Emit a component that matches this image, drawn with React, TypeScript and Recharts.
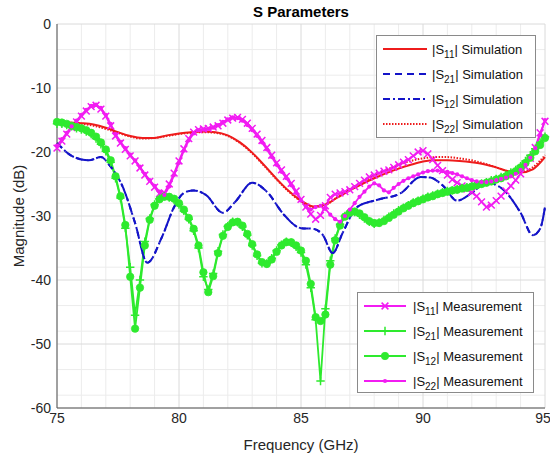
import React from 'react';
import { LineChart, Line, XAxis, YAxis, CartesianGrid } from 'recharts';

// Axis ticks and grid positions
const xTicks = [75, 80, 85, 90, 95];
const yTicks = [0, -10, -20, -30, -40, -50, -60];
const xMinor = [76, 77, 78, 79, 81, 82, 83, 84, 86, 87, 88, 89, 91, 92, 93, 94];
const yMinor = [-2, -4, -6, -8, -12, -14, -16, -18, -22, -24, -26, -28, -32, -34, -36, -38, -42, -44, -46, -48, -52, -54, -56, -58];

// Simulated |S11| and |S22| (GHz, dB)
const simFreqRed = [
  75, 75.5, 76, 76.5, 77, 77.5, 78, 78.5, 79, 79.5,
  80, 80.5, 81, 81.5, 82, 82.5, 83, 83.5, 84, 84.5,
  85, 85.5, 86, 86.5, 87, 87.5, 88, 88.5, 89, 89.5,
  90, 90.5, 91, 91.5, 92, 92.5, 93, 93.5, 94, 94.5, 95,
];
const simS11 = [
  -15.3, -15.4, -15.5, -15.7, -16.2, -16.9, -17.5, -17.8, -17.8, -17.4,
  -17.1, -16.9, -16.8, -16.9, -17.4, -18.5, -20.1, -22.1, -24.2, -26.1,
  -27.6, -28.5, -28.2, -27.1, -26.0, -25.0, -24.1, -23.3, -22.6, -22.0,
  -21.5, -21.3, -21.3, -21.4, -21.6, -21.9, -22.4, -23.0, -23.2, -22.7, -20.8,
];
const simS22 = [
  -15.5, -15.5, -15.6, -15.9, -16.4, -17.0, -17.6, -17.9, -17.8, -17.5,
  -17.2, -17.0, -16.9, -17.0, -17.5, -18.6, -20.2, -22.2, -24.3, -26.2,
  -27.7, -28.6, -28.3, -27.0, -25.8, -24.7, -23.7, -22.8, -22.0, -21.4,
  -21.0, -20.8, -20.8, -21.0, -21.3, -21.8, -22.4, -23.0, -23.1, -22.4, -20.5,
];

// Simulated |S21| and |S12| (GHz, dB)
const simFreqBlue = [
  75, 75.7, 76.3, 76.8, 77.2, 77.7, 78.2, 78.7, 79.3, 79.8,
  80.2, 80.6, 81.1, 81.8, 82.3, 83.0, 83.6, 84.3, 85.0, 85.5,
  85.9, 86.3, 86.7, 87.3, 88.1, 89.1, 89.9, 90.3, 90.8, 91.4,
  92.0, 92.6, 93.2, 94.0, 94.5, 94.8, 95,
];
const simS21 = [
  -18.6, -20.8, -21.3, -20.8, -22.3, -25.5, -31.1, -37.3, -33.3, -28.6,
  -26.4, -26.0, -26.7, -29.5, -27.8, -24.8, -26.2, -29.8, -31.9, -32.0,
  -33.0, -35.8, -32.7, -28.6, -27.5, -26.4, -23.9, -24.0, -25.2, -27.6,
  -26.4, -24.8, -25.6, -29.5, -33.0, -32.0, -28.6,
];
const simS12 = [
  -18.6, -20.8, -21.3, -20.8, -22.3, -25.5, -31.1, -37.3, -33.3, -28.6,
  -26.4, -26.0, -26.7, -29.5, -27.8, -24.8, -26.2, -29.8, -31.9, -32.0,
  -33.0, -35.8, -32.7, -28.6, -27.5, -26.4, -23.9, -24.0, -25.2, -27.6,
  -26.4, -24.8, -25.6, -29.5, -33.0, -32.0, -28.6,
];

// Measured sweep: 75 to 95 GHz in 0.2 GHz steps
const measFreq = Array.from({ length: 101 }, (_, i) => Math.round((75 + 0.2 * i) * 10) / 10);
const measS11 = [
  -19.4, -18.3, -17.2, -16.2, -15.3, -14.4, -13.6, -12.9, -12.7, -13.3,
  -14.4, -15.9, -17.5, -18.6, -19.6, -20.6, -21.4, -22.5, -23.6, -24.6,
  -25.5, -26.5, -26.4, -25.0, -23.3, -21.4, -19.5, -17.9, -16.9, -16.5,
  -16.4, -16.3, -16.1, -15.9, -15.5, -15.0, -14.7, -14.6, -14.9, -15.5,
  -16.3, -17.2, -18.2, -19.3, -20.5, -21.7, -22.8, -23.8, -24.9, -26.1,
  -27.4, -28.6, -29.7, -30.5, -29.9, -28.4, -27.1, -26.6, -26.4, -26.2,
  -25.9, -25.4, -24.9, -24.4, -23.9, -23.6, -23.3, -23.0, -22.8, -22.4,
  -22.0, -21.6, -21.2, -20.6, -20.0, -19.8, -20.3, -21.2, -22.1, -22.9,
  -23.6, -24.3, -24.8, -25.3, -25.8, -26.3, -26.9, -27.8, -28.6, -28.3,
  -27.6, -26.9, -26.1, -25.3, -24.4, -23.4, -22.3, -21.0, -19.3, -17.0, -15.2,
];
const measS21 = [
  -15.6, -15.6, -15.8, -16.0, -16.3, -16.5, -16.8, -17.2, -17.9, -18.8,
  -19.9, -21.6, -24.1, -27.2, -31.9, -38.0, -45.5, -40.0, -34.0, -30.4,
  -28.2, -27.3, -26.9, -27.1, -27.5, -28.2, -29.2, -30.5, -32.3, -35.0,
  -39.5, -41.5, -39.0, -35.5, -32.9, -31.6, -30.9, -31.0, -31.7, -33.0,
  -34.6, -36.2, -37.4, -37.4, -36.6, -35.4, -34.5, -34.0, -34.2, -34.8,
  -35.7, -37.6, -41.2, -46.2, -55.8, -44.5, -37.0, -33.5, -31.3, -30.0,
  -29.4, -29.4, -29.8, -30.4, -30.9, -31.2, -31.0, -30.6, -30.1, -29.6,
  -29.1, -28.7, -28.3, -27.9, -27.6, -27.3, -27.0, -26.8, -26.5, -26.3,
  -26.1, -26.0, -25.8, -25.6, -25.5, -25.3, -25.1, -24.9, -24.7, -24.4,
  -24.2, -23.9, -23.6, -23.2, -22.8, -22.2, -21.4, -20.5, -19.5, -18.5, -17.6,
];
const measS12 = [
  -15.3, -15.4, -15.6, -15.9, -16.1, -16.3, -16.6, -17.0, -17.6, -18.5,
  -19.6, -21.3, -23.8, -26.9, -31.4, -39.5, -47.6, -41.2, -34.6, -30.6,
  -28.4, -27.4, -27.0, -27.0, -27.3, -28.0, -29.0, -30.3, -32.0, -34.6,
  -38.8, -41.9, -39.4, -35.8, -33.1, -31.7, -31.0, -30.9, -31.5, -32.8,
  -34.4, -36.0, -37.2, -37.5, -36.8, -35.6, -34.6, -34.1, -34.1, -34.6,
  -35.4, -37.0, -40.6, -45.8, -46.4, -45.4, -37.6, -33.8, -31.5, -30.1,
  -29.5, -29.3, -29.6, -30.2, -30.8, -31.1, -31.1, -30.8, -30.3, -29.8,
  -29.3, -28.8, -28.4, -28.0, -27.7, -27.4, -27.1, -26.9, -26.6, -26.4,
  -26.2, -26.0, -25.9, -25.7, -25.6, -25.4, -25.2, -25.0, -24.8, -24.6,
  -24.3, -24.1, -23.8, -23.4, -23.0, -22.4, -21.7, -20.9, -19.9, -18.9, -17.8,
];
const measS22 = [
  -19.0, -18.0, -17.0, -16.0, -15.1, -14.2, -13.4, -12.8, -12.6, -13.1,
  -14.2, -15.6, -17.2, -18.4, -19.4, -20.4, -21.3, -22.3, -23.4, -24.4,
  -25.3, -26.2, -26.7, -25.4, -23.6, -21.7, -19.8, -18.2, -17.1, -16.6,
  -16.5, -16.4, -16.2, -15.8, -15.3, -14.9, -14.6, -14.7, -15.1, -15.8,
  -16.6, -17.5, -18.5, -19.6, -20.8, -22.0, -23.1, -24.1, -25.2, -26.4,
  -27.6, -28.5, -29.0, -28.6, -28.4, -28.9, -29.8, -30.5, -30.9, -30.0,
  -29.0, -28.0, -27.0, -26.2, -25.4, -24.9, -25.2, -26.0, -26.3, -25.6,
  -25.0, -24.5, -24.1, -23.8, -23.5, -23.2, -23.0, -22.9, -22.9, -23.0,
  -23.1, -23.3, -23.5, -23.8, -24.1, -24.4, -24.6, -24.7, -24.7, -24.6,
  -24.4, -24.2, -24.0, -23.8, -23.4, -22.8, -22.0, -20.9, -19.4, -17.4, -15.0,
];

const RED = '#ee1c1c';
const BLUE = '#1414c8';
const MAGENTA = '#f21cf2';
const GREEN = '#2eea2e';
const FONT = '"Liberation Sans", Arial, Helvetica, sans-serif';
const TEXT = '#262626';

const zip = (xs: number[], ys: number[]) => xs.map((f, i) => ({ f, v: ys[i] }));

const simS11Data = zip(simFreqRed, simS11);
const simS22Data = zip(simFreqRed, simS22);
const simS21Data = zip(simFreqBlue, simS21);
const simS12Data = zip(simFreqBlue, simS12);
const measS11Data = zip(measFreq, measS11);
const measS21Data = zip(measFreq, measS21);
const measS12Data = zip(measFreq, measS12);
const measS22Data = zip(measFreq, measS22);

type MarkerKind = 'x' | 'plus' | 'circle' | 'dot';

function markerShape(kind: MarkerKind, cx: number, cy: number, color: string, key?: string) {
  if (kind === 'x') {
    const r = 3.4;
    return (
      <path key={key} d={`M${cx - r},${cy - r}L${cx + r},${cy + r}M${cx - r},${cy + r}L${cx + r},${cy - r}`}
        stroke={color} strokeWidth={1.5} fill="none" />
    );
  }
  if (kind === 'plus') {
    const r = 4.2;
    return (
      <path key={key} d={`M${cx - r},${cy}L${cx + r},${cy}M${cx},${cy - r}L${cx},${cy + r}`}
        stroke={color} strokeWidth={1.5} fill="none" />
    );
  }
  if (kind === 'circle') {
    return <circle key={key} cx={cx} cy={cy} r={3.7} fill={color} stroke={color} strokeWidth={0.8} />;
  }
  return <circle key={key} cx={cx} cy={cy} r={2.1} fill={color} stroke="none" />;
}

const makeDot = (kind: MarkerKind, color: string) => (props: any) => {
  const { cx, cy, index } = props;
  if (cx == null || cy == null) return <g key={`e-${index}`} />;
  return markerShape(kind, cx, cy, color, `m-${index}`);
};

type SimEntry = { sub: string; label: string; color: string; dash?: string };
type MeasEntry = { sub: string; label: string; color: string; marker: MarkerKind };

const simLegend: SimEntry[] = [
  { sub: '11', label: 'Simulation', color: RED },
  { sub: '21', label: 'Simulation', color: BLUE, dash: '7 5' },
  { sub: '12', label: 'Simulation', color: BLUE, dash: '7 3 2 3' },
  { sub: '22', label: 'Simulation', color: RED, dash: '1.5 1.5' },
];
const measLegend: MeasEntry[] = [
  { sub: '11', label: 'Measurement', color: MAGENTA, marker: 'x' },
  { sub: '21', label: 'Measurement', color: GREEN, marker: 'plus' },
  { sub: '12', label: 'Measurement', color: GREEN, marker: 'circle' },
  { sub: '22', label: 'Measurement', color: MAGENTA, marker: 'dot' },
];

const LegendText = ({ sub, label }: { sub: string; label: string }) => (
  <span style={{ fontFamily: FONT, fontSize: 13, color: '#111', whiteSpace: 'nowrap', lineHeight: '14px' }}>
    |S<sub style={{ fontSize: 10, verticalAlign: 'baseline', position: 'relative', top: 4 }}>{sub}</sub>| {label}
  </span>
);

const boxStyle: React.CSSProperties = {
  position: 'absolute',
  background: '#fff',
  border: '1px solid #8a8a8a',
  boxSizing: 'border-box',
};

function SimLegendBox() {
  return (
    <div style={{ ...boxStyle, left: 376, top: 35, width: 160, height: 103 }}>
      {simLegend.map((e, i) => (
        <div key={i} style={{ position: 'absolute', left: 5, top: 5 + i * 25, height: 16, display: 'flex', alignItems: 'center' }}>
          <svg width={46} height={16} style={{ display: 'block' }}>
            <line x1={1} y1={8} x2={45} y2={8} stroke={e.color} strokeWidth={2} strokeDasharray={e.dash} />
          </svg>
          <div style={{ marginLeft: 4 }}><LegendText sub={e.sub} label={e.label} /></div>
        </div>
      ))}
    </div>
  );
}

function MeasLegendBox() {
  return (
    <div style={{ ...boxStyle, left: 357, top: 292, width: 177, height: 101 }}>
      {measLegend.map((e, i) => (
        <div key={i} style={{ position: 'absolute', left: 5, top: 5 + i * 25, height: 16, display: 'flex', alignItems: 'center' }}>
          <svg width={44} height={16} style={{ display: 'block' }}>
            <line x1={1} y1={8} x2={43} y2={8} stroke={e.color} strokeWidth={1.8} />
            {markerShape(e.marker, 22, 8, e.color)}
          </svg>
          <div style={{ marginLeft: 6 }}><LegendText sub={e.sub} label={e.label} /></div>
        </div>
      ))}
    </div>
  );
}

export default function App() {
  return (
    <div style={{ position: 'absolute', left: 0, top: 0, width: 550, height: 462, background: '#fff', fontFamily: FONT }}>
      <LineChart width={550} height={462} margin={{ top: 24, right: 5, bottom: 0, left: 0 }}>
        <CartesianGrid stroke="#ececec" strokeWidth={1} horizontalValues={yMinor} verticalValues={xMinor} />
        <CartesianGrid stroke="#dadada" strokeWidth={1} horizontalValues={yTicks} verticalValues={xTicks} />
        <XAxis
          dataKey="f"
          type="number"
          domain={[75, 95]}
          ticks={xTicks}
          allowDuplicatedCategory={false}
          height={54}
          tickLine={false}
          tickSize={0}
          tickMargin={5}
          axisLine={{ stroke: '#555', strokeWidth: 1 }}
          tick={{ fontSize: 14, fill: TEXT, fontFamily: FONT }}
          label={{ value: 'Frequency (GHz)', position: 'insideBottom', offset: 12, fontSize: 15, fill: TEXT, fontFamily: FONT }}
        />
        <XAxis xAxisId="top" orientation="top" type="number" domain={[75, 95]} height={0} tick={false} tickLine={false}
          axisLine={{ stroke: '#555', strokeWidth: 1 }} />
        <YAxis
          type="number"
          domain={[-60, 0]}
          ticks={yTicks}
          width={57}
          tickLine={false}
          tickSize={0}
          tickMargin={6}
          axisLine={{ stroke: '#555', strokeWidth: 1 }}
          tick={{ fontSize: 14, fill: TEXT, fontFamily: FONT }}
          label={{ value: 'Magnitude (dB)', angle: -90, position: 'insideLeft', offset: 19, fontSize: 15, fill: TEXT, fontFamily: FONT, style: { textAnchor: 'middle' } }}
        />
        <YAxis yAxisId="right" orientation="right" type="number" domain={[-60, 0]} width={0} tick={false} tickLine={false}
          axisLine={{ stroke: '#555', strokeWidth: 1 }} />

        <Line data={measS11Data} dataKey="v" type="linear" stroke={MAGENTA} strokeWidth={1.8} dot={makeDot('x', MAGENTA)} isAnimationActive={false} />
        <Line data={measS21Data} dataKey="v" type="linear" stroke={GREEN} strokeWidth={1.8} dot={makeDot('plus', GREEN)} isAnimationActive={false} />
        <Line data={measS12Data} dataKey="v" type="linear" stroke={GREEN} strokeWidth={1.8} dot={makeDot('circle', GREEN)} isAnimationActive={false} />
        <Line data={measS22Data} dataKey="v" type="linear" stroke={MAGENTA} strokeWidth={1.8} dot={makeDot('dot', MAGENTA)} isAnimationActive={false} />

        <Line data={simS11Data} dataKey="v" type="monotone" stroke={RED} strokeWidth={2} dot={false} isAnimationActive={false} />
        <Line data={simS21Data} dataKey="v" type="monotone" stroke={BLUE} strokeWidth={2} strokeDasharray="7 5" dot={false} isAnimationActive={false} />
        <Line data={simS12Data} dataKey="v" type="monotone" stroke={BLUE} strokeWidth={2} strokeDasharray="7 3 2 3" dot={false} isAnimationActive={false} />
        <Line data={simS22Data} dataKey="v" type="monotone" stroke={RED} strokeWidth={2} strokeDasharray="1.5 1.5" dot={false} isAnimationActive={false} />
      </LineChart>

      <div style={{ position: 'absolute', left: 57, width: 488, top: 3, textAlign: 'center', fontFamily: FONT, fontWeight: 'bold', fontSize: 15, color: '#000' }}>
        S Parameters
      </div>
      <SimLegendBox />
      <MeasLegendBox />
    </div>
  );
}
